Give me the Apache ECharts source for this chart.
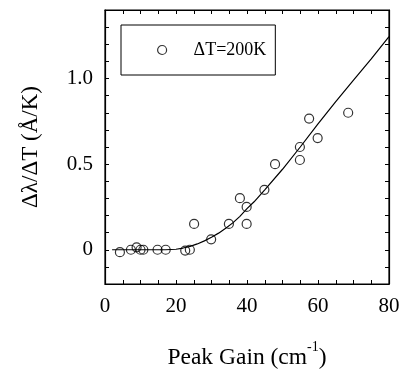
<!DOCTYPE html>
<html><head><meta charset="utf-8">
<script src="https://cdn.jsdelivr.net/npm/echarts@6/dist/echarts.min.js"></script>
<style>html,body{margin:0;padding:0;background:#fff}#c{width:403px;height:371px}</style>
</head><body><div id="c"></div>
<script>
var gainX = [4.2, 7.3, 8.9, 10.0, 10.8, 14.8, 17.1, 22.6, 23.9, 25.1, 29.9, 34.9, 38.0, 39.9, 39.9, 44.9, 47.9, 54.9, 54.9, 57.5, 59.9, 68.5];
var shiftY = [-0.014, 0, 0.014, 0, 0, 0, 0, -0.005, 0, 0.151, 0.061, 0.151, 0.301, 0.25, 0.151, 0.35, 0.5, 0.60, 0.524, 0.766, 0.652, 0.80];
var fitX = [2, 10, 17, 20, 22, 24, 26, 28, 30, 32, 34, 36, 38, 40, 42, 45, 50, 55, 60, 65, 70, 75, 80];
var fitY = [0, 0, 0, 0.003, 0.01, 0.02, 0.034, 0.052, 0.073, 0.097, 0.125, 0.157, 0.195, 0.24, 0.28, 0.35, 0.47, 0.6, 0.735, 0.865, 0.99, 1.115, 1.245];
var xLabels = [0, 20, 40, 60, 80];
var yLabels = ['0', '0.5', '1.0'];
var legendName = 'ΔT=200K';

var FONT = 'Liberation Serif';
var chart = echarts.init(document.getElementById('c'));
function pts(xs, ys){ return xs.map(function(x,i){return [x, ys[i]];}); }
function axisLine(){ return {show:true, onZero:false, lineStyle:{color:'#000', width:1.2}}; }
function tick(){ return {show:true, inside:true, length:4, lineStyle:{color:'#000', width:1}}; }
chart.setOption({
  animation:false,
  grid:{left:105, right:14, top:10, bottom:87, outerBoundsMode:'none', containLabel:false,
        show:true, borderColor:'#000', borderWidth:1.2, backgroundColor:'transparent'},
  legend:{
    left:121, top:25, orient:'horizontal',
    data:[{name:legendName, icon:'circle', itemStyle:{color:'transparent', borderColor:'#000', borderWidth:1.2}}],
    itemWidth:9, itemHeight:9,
    padding:[16, 9, 16, 36],
    borderColor:'#000', borderWidth:1,
    textStyle:{fontFamily:FONT, fontSize:18, color:'#000', padding:[0,0,0,22]}
  },
  xAxis:[{
    type:'value', min:0, max:80, interval:5, position:'bottom',
    axisLine:axisLine(), axisTick:tick(), splitLine:{show:false},
    axisLabel:{fontFamily:FONT, fontSize:21, color:'#000', margin:12,
      formatter:function(v){ return xLabels.indexOf(Math.round(v))>=0 && Math.abs(v-Math.round(v))<1e-6 ? String(Math.round(v)) : ''; }},
    name:'{a|Peak Gain (cm}{s|-1}{a|)}', nameLocation:'middle', nameGap:56,
    nameTextStyle:{rich:{a:{fontFamily:FONT, fontSize:23.5, color:'#000', lineHeight:30, verticalAlign:'bottom'},
                         s:{fontFamily:FONT, fontSize:14, color:'#000', lineHeight:30, verticalAlign:'top'}}}
  },{
    type:'value', min:0, max:80, interval:5, position:'top',
    axisLine:axisLine(), axisTick:tick(), axisLabel:{show:false}, splitLine:{show:false}
  }],
  yAxis:[{
    type:'value', min:-0.2, max:1.4, interval:0.1, position:'left',
    axisLine:axisLine(), axisTick:tick(), splitLine:{show:false},
    axisLabel:{fontFamily:FONT, fontSize:21, color:'#000', margin:12,
      formatter:function(v){ var r=Math.round(v*10)/10; if(Math.abs(r)<1e-9) return yLabels[0]; if(Math.abs(r-0.5)<1e-9) return yLabels[1]; if(Math.abs(r-1)<1e-9) return yLabels[2]; return ''; }},
    name:'Δλ/ΔT (Å/K)', nameLocation:'middle', nameGap:63, nameRotate:90,
    nameTextStyle:{fontFamily:FONT, fontSize:23, color:'#000'}
  },{
    type:'value', min:-0.2, max:1.4, interval:0.1, position:'right',
    axisLine:axisLine(), axisTick:tick(), axisLabel:{show:false}, splitLine:{show:false}
  }],
  series:[{
    name:'fit', type:'line', data:pts(fitX, fitY), smooth:false, symbol:'none',
    lineStyle:{color:'#000', width:1.2}, z:2
  },{
    name:legendName, type:'scatter', data:pts(gainX, shiftY), symbol:'circle', symbolSize:9,
    itemStyle:{color:'transparent', borderColor:'#000', borderWidth:1.2}, z:3
  },{
    name:'frame', type:'scatter', xAxisIndex:1, yAxisIndex:1, data:[], silent:true
  }]
});
</script></body></html>
